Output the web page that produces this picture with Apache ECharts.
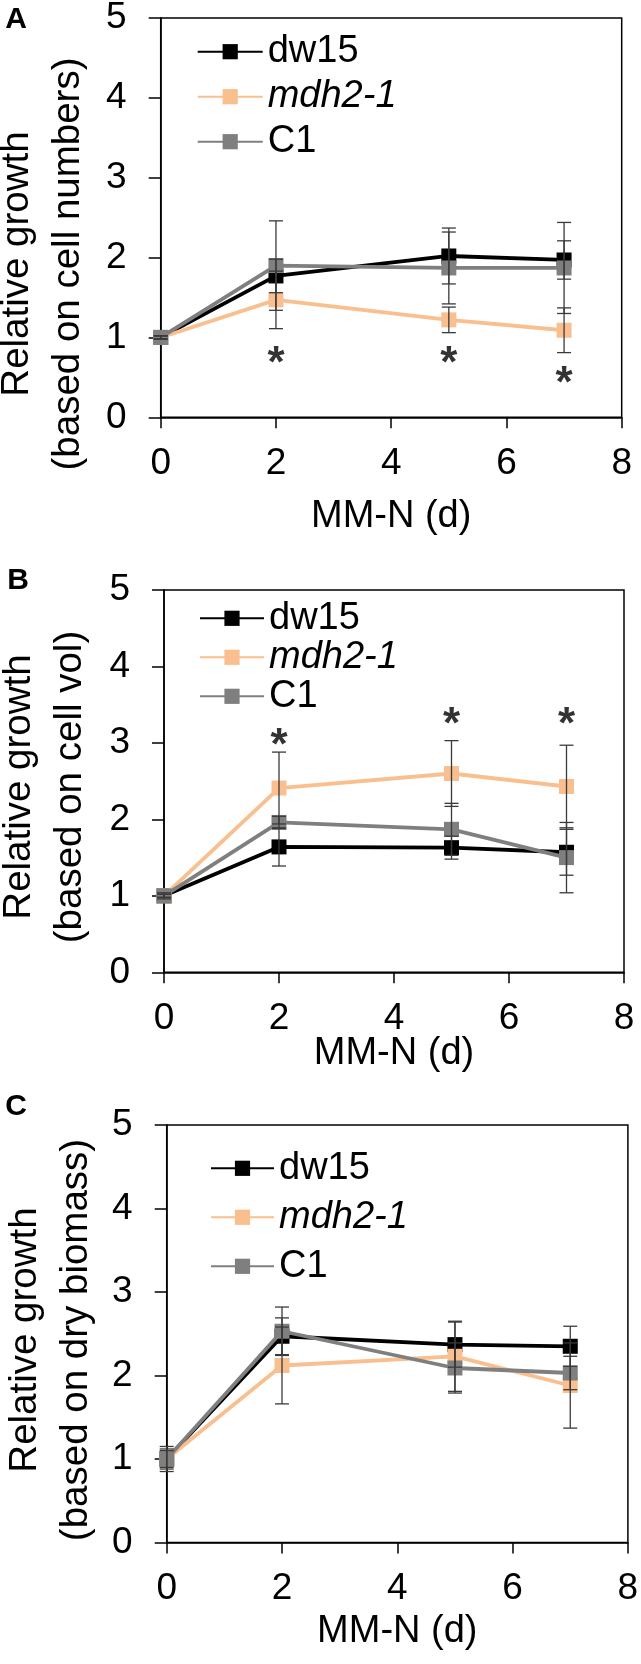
<!DOCTYPE html>
<html>
<head>
<meta charset="utf-8">
<script src="https://cdn.jsdelivr.net/npm/echarts@6/dist/echarts.min.js"></script>
<style>
  html, body { margin: 0; padding: 0; background: #fff; }
  #chart { width: 641px; height: 1664px; }
</style>
</head>
<body>
<div id="chart"></div>
<script>
// ---------- data ----------
const days = [0, 2, 5, 7];
const seriesNames = ['dw15', 'mdh2-1', 'C1'];
const xTicks = [0, 2, 4, 6, 8];
const yTicks = [0, 1, 2, 3, 4, 5];

// Panel A: based on cell numbers
const aDw15 = [1, 1.77, 2.02, 1.97];
const aDw15Err = [0.02, 0.21, 0.35, 0.24];
const aMdh = [1, 1.47, 1.22, 1.09];
const aMdhErr = [0.02, 0.36, 0.16, 0.28];
const aC1 = [1, 1.90, 1.87, 1.87];
const aC1Err = [0.02, 0.56, 0.45, 0.57];
const aStarX = [2, 5, 7];
const aStarY = [0.79, 0.80, 0.55];

// Panel B: based on cell vol
const bDw15 = [1, 1.64, 1.63, 1.57];
const bDw15Err = [0.02, 0.25, 0.15, 0.30];
const bMdh = [1, 2.41, 2.60, 2.43];
const bMdhErr = [0.04, 0.47, 0.43, 0.54];
const bC1 = [1, 1.96, 1.87, 1.50];
const bC1Err = [0.02, 0.08, 0.34, 0.46];
const bStarX = [2, 5, 7];
const bStarY = [3.09, 3.37, 3.37];

// Panel C: based on dry biomass
const cDw15 = [1, 2.47, 2.37, 2.35];
const cDw15Err = [0.15, 0.22, 0.27, 0.24];
const cMdh = [1, 2.12, 2.23, 1.88];
const cMdhErr = [0.10, 0.46, 0.42, 0.51];
const cC1 = [1, 2.53, 2.09, 2.03];
const cC1Err = [0.12, 0.29, 0.30, 0.20];

const yTitles = [
  'Relative growth\n(based on cell numbers)',
  'Relative growth\n(based on cell vol)',
  'Relative growth\n(based on dry biomass)'
];
const xTitle = 'MM-N (d)';
const panelLetters = ['A', 'B', 'C'];

// ---------- style ----------
const FONT = 'Liberation Sans, Arial, Helvetica, sans-serif';
const FS_TICK = 37;
const FS_TEXT = 38;
const FS_YT = 38.5;
const colors = { 'dw15': '#000000', 'mdh2-1': '#F9BF8F', 'C1': '#7F7F7F' };

const panels = [
  { vals: [aDw15, aMdh, aC1], errs: [aDw15Err, aMdhErr, aC1Err], starX: aStarX, starY: aStarY,
    grid: { left: 160.7, top: 18, width: 461, height: 399.3 }, nameGap: 80,
    legend: { left: 196.7, top: 32.7, itemGap: 7, itemWidth: 65 },
    yTitle: { x: 43, y: 264 }, letter: { x: 16, y: 20 } },
  { vals: [bDw15, bMdh, bC1], errs: [bDw15Err, bMdhErr, bC1Err], starX: bStarX, starY: bStarY,
    grid: { left: 164, top: 590, width: 460, height: 382.3 }, nameGap: 62,
    legend: { left: 199, top: 599.3, itemGap: 1, itemWidth: 64 },
    yTitle: { x: 45, y: 787 }, letter: { x: 18, y: 581 } },
  { vals: [cDw15, cMdh, cC1], errs: [cDw15Err, cMdhErr, cC1Err], starX: [], starY: [],
    grid: { left: 166.7, top: 1125, width: 461.2, height: 417.5 }, nameGap: 70,
    legend: { left: 210, top: 1149.3, itemGap: 11, itemWidth: 63 },
    yTitle: { x: 51, y: 1340 }, letter: { x: 16, y: 1107 } }
];

const grids = [], xAxes = [], yAxes = [], series = [], legends = [], graphics = [];

panels.forEach((p, gi) => {
  grids.push(Object.assign({ show: true, borderColor: '#000', borderWidth: 1.5,
    backgroundColor: 'transparent', containLabel: false, outerBoundsMode: 'none' }, p.grid));

  xAxes.push({
    gridIndex: gi, type: 'value', min: xTicks[0], max: xTicks[xTicks.length - 1], interval: 2,
    name: xTitle, nameLocation: 'middle', nameGap: p.nameGap, nameMoveOverlap: false,
    nameTextStyle: { fontSize: FS_TEXT, fontFamily: FONT, color: '#000' },
    axisLine: { show: true, onZero: false, lineStyle: { color: '#000', width: 1.5 } },
    axisTick: { show: true, inside: false, length: 11, lineStyle: { color: '#000', width: 1.5 } },
    axisLabel: { fontSize: FS_TICK, fontFamily: FONT, color: '#000', margin: 28 },
    splitLine: { show: false }
  });
  yAxes.push({
    gridIndex: gi, type: 'value', min: yTicks[0], max: yTicks[yTicks.length - 1], interval: 1,
    axisLine: { show: true, onZero: false, lineStyle: { color: '#000', width: 1.5 } },
    axisTick: { show: true, inside: false, length: 12, lineStyle: { color: '#000', width: 1.5 } },
    axisLabel: { fontSize: FS_TICK, fontFamily: FONT, color: '#000', margin: 34 },
    splitLine: { show: false }
  });

  // error bars (mean ± error)
  seriesNames.forEach((nm, si) => {
    const data = days.map((d, i) => [d, p.vals[si][i] - p.errs[si][i], p.vals[si][i] + p.errs[si][i]]);
    series.push({
      type: 'custom', xAxisIndex: gi, yAxisIndex: gi, z: 4, silent: true,
      encode: { x: 0, y: [1, 2] }, data: data,
      renderItem: function (params, api) {
        const x = api.value(0), lo = api.value(1), hi = api.value(2);
        const pt = api.coord([x, hi]), pb = api.coord([x, lo]);
        const w = 7;
        const st = { stroke: '#3a3a3a', lineWidth: 1.3 };
        return { type: 'group', children: [
          { type: 'line', shape: { x1: pt[0], y1: pt[1], x2: pb[0], y2: pb[1] }, style: st },
          { type: 'line', shape: { x1: pt[0] - w, y1: pt[1], x2: pt[0] + w, y2: pt[1] }, style: st },
          { type: 'line', shape: { x1: pb[0] - w, y1: pb[1], x2: pb[0] + w, y2: pb[1] }, style: st }
        ]};
      }
    });
  });

  // lines with square markers
  seriesNames.forEach((nm, si) => {
    series.push({
      name: nm, type: 'line', xAxisIndex: gi, yAxisIndex: gi, z: 3 + si * 0.1,
      data: days.map((d, i) => [d, p.vals[si][i]]),
      symbol: 'rect', symbolSize: 15, showSymbol: true,
      lineStyle: { color: colors[nm], width: 3.8 }, itemStyle: { color: colors[nm] }, animation: false
    });
  });

  // significance asterisks
  if (p.starX.length) {
    series.push({
      type: 'scatter', xAxisIndex: gi, yAxisIndex: gi, symbolSize: 0, silent: true,
      data: p.starX.map((x, i) => [x, p.starY[i]]),
      label: { show: true, position: 'inside', formatter: '*', fontSize: 44, fontWeight: 'bold',
               fontFamily: FONT, color: '#000', offset: [0, 11] }
    });
  }

  legends.push({
    orient: 'vertical', left: p.legend.left, top: p.legend.top,
    itemWidth: p.legend.itemWidth, itemHeight: 19, itemGap: p.legend.itemGap,
    data: seriesNames, selectedMode: false, padding: 0,
    textStyle: { fontSize: FS_TEXT, fontFamily: FONT, color: '#000', lineHeight: 38,
      rich: { i: { fontStyle: 'italic', fontSize: FS_TEXT, fontFamily: FONT, color: '#000', lineHeight: 38 } } },
    formatter: function (name) { return name === 'mdh2-1' ? '{i|' + name + '}' : name; }
  });

  graphics.push({
    type: 'text', x: p.yTitle.x, y: p.yTitle.y, rotation: Math.PI / 2,
    style: { text: yTitles[gi], fontSize: FS_YT, fontFamily: FONT, fill: '#000',
             align: 'center', verticalAlign: 'middle', lineHeight: 51 }
  });
  graphics.push({
    type: 'text', x: p.letter.x, y: p.letter.y,
    style: { text: panelLetters[gi], fontSize: 30, fontWeight: 'bold', fontFamily: FONT, fill: '#000',
             align: 'center', verticalAlign: 'middle' }
  });
});

const chart = echarts.init(document.getElementById('chart'), null, { renderer: 'canvas' });
chart.setOption({
  animation: false, backgroundColor: '#ffffff',
  grid: grids, xAxis: xAxes, yAxis: yAxes, legend: legends, series: series, graphic: graphics
});
</script>
</body>
</html>
